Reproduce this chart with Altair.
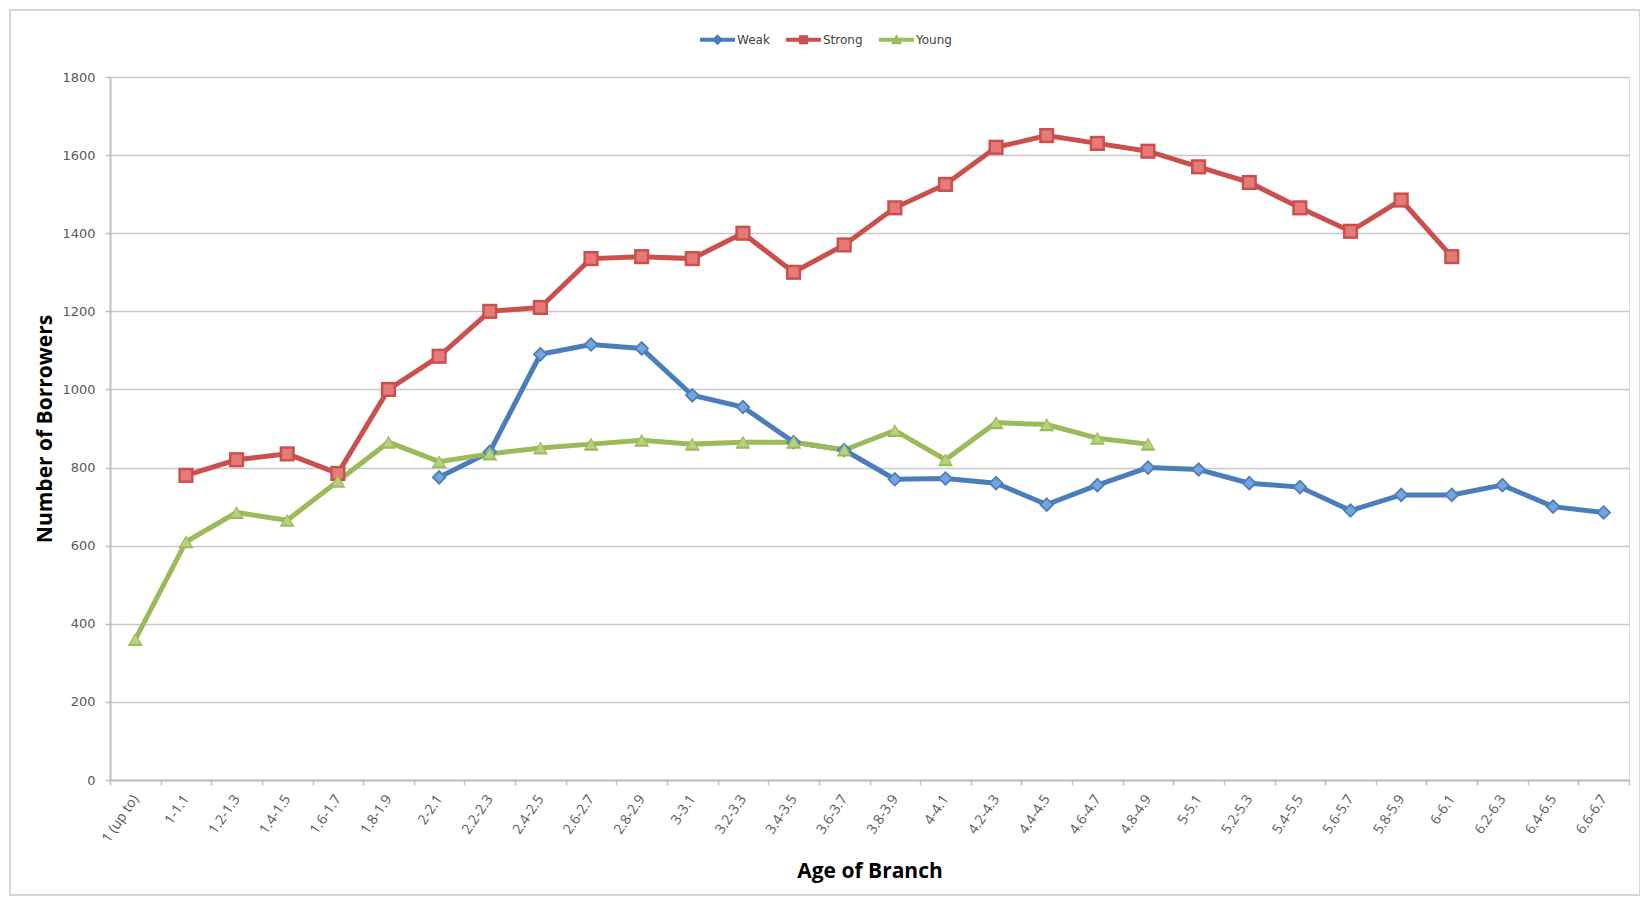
import altair as alt
import pandas as pd

categories = ["1 (up to)", "1-1.1", "1.2-1.3", "1.4-1.5", "1.6-1.7", "1.8-1.9",
              "2-2.1", "2.2-2.3", "2.4-2.5", "2.6-2.7", "2.8-2.9", "3-3.1",
              "3.2-3.3", "3.4-3.5", "3.6-3.7", "3.8-3.9", "4-4.1", "4.2-4.3",
              "4.4-4.5", "4.6-4.7", "4.8-4.9", "5-5.1", "5.2-5.3", "5.4-5.5",
              "5.6-5.7", "5.8-5.9", "6-6.1", "6.2-6.3", "6.4-6.5", "6.6-6.7"]

weak = [None, None, None, None, None, None,
        775, 840, 1090, 1115, 1105, 985, 955, 865, 845, 770, 772, 760,
        705, 755, 800, 795, 760, 750, 690, 730, 730, 755, 700, 685]

strong = [None, 780, 820, 835, 785, 1000, 1085, 1200, 1210, 1335, 1340, 1335,
          1400, 1300, 1370, 1465, 1525, 1620, 1650, 1630, 1610, 1570, 1530,
          1465, 1405, 1485, 1340, None, None, None]

young = [360, 610, 685, 665, 765, 865, 815, 835, 850, 860, 870, 860, 865,
         865, 845, 895, 820, 915, 910, 875, 860,
         None, None, None, None, None, None, None, None, None]

series = ["Weak", "Strong", "Young"]
colors = ["#4A7EBB", "#C9504C", "#9BBB59"]
light_colors = ["#76A4DC", "#E57A76", "#B7D17E"]
shapes = ["diamond", "square", "triangle-up"]
legend_paths = [
    "M-1,-0.12H1V0.12H-1Z M0,-0.32L0.32,0L0,0.32L-0.32,0Z",
    "M-1,-0.12H1V0.12H-1Z M-0.26,-0.26H0.26V0.26H-0.26Z",
    "M-1,-0.12H1V0.12H-1Z M0,-0.32L0.32,0.26L-0.32,0.26Z",
]

rows = []
for name, vals in zip(series, [weak, strong, young]):
    for cat, v in zip(categories, vals):
        if v is not None:
            rows.append({"Age": cat, "Series": name, "Borrowers": v})
df = pd.DataFrame(rows)

x_enc = alt.X(
    "Age:N",
    sort=categories,
    bandPosition=0.5,
    scale=alt.Scale(type="band", domain=categories, paddingInner=0, paddingOuter=0),
    axis=alt.Axis(
        title="Age of Branch",
        titleFont="Open Sans", titleFontSize=21, titleFontWeight="bold",
        titleColor="#000000", titleY=80,
        labelAngle=-56, labelFont="Open Sans",
        labelFontSize=14, labelColor="#595959", labelOverlap=False,
        labelPadding=11,
        tickBand="extent", tickSize=5, tickColor="#BFBFBF", tickWidth=1.5,
        domainColor="#BFBFBF", domainWidth=2, grid=False,
    ),
)

y_enc = alt.Y(
    "Borrowers:Q",
    scale=alt.Scale(domain=[0, 1800], nice=False),
    axis=alt.Axis(
        values=list(range(0, 1801, 200)), format="d",
        title="Number of Borrowers",
        titleFont="Open Sans", titleFontSize=21, titleFontWeight="bold",
        titleColor="#000000", titleX=-65, titleBaseline="middle",
        labelFont="DejaVu Sans", labelFontSize=13, labelColor="#595959",
        labelPadding=10,
        tickSize=5, tickColor="#BFBFBF", tickWidth=1.5,
        domainColor="#BFBFBF", domainWidth=2,
        gridColor="#C8C8C8", gridWidth=1.5,
    ),
)

color_scale = alt.Scale(domain=series, range=colors)

leg = alt.Legend(
    title=None, orient="none", legendX=590, legendY=-55,
    direction="horizontal",
    symbolSize=1225, symbolStrokeWidth=0,
    labelFont="DejaVu Sans", labelFontSize=12, labelColor="#404040",
    labelOffset=2, columnPadding=16, padding=0,
)

# empty layer that only carries the legend (line + marker symbols)
legend_layer = alt.Chart(df).transform_filter("false").mark_point(
    filled=True, opacity=1, size=1225
).encode(
    x=x_enc, y=y_enc,
    color=alt.Color("Series:N", scale=color_scale, legend=leg),
    shape=alt.Shape("Series:N", scale=alt.Scale(domain=series, range=legend_paths), legend=leg),
)

lines = alt.Chart(df).mark_line(strokeWidth=5).encode(
    x=x_enc, y=y_enc,
    stroke=alt.Stroke("Series:N", scale=alt.Scale(domain=series, range=colors), legend=None),
    detail="Series:N",
)

marker_layers = []
for name, shp, col, lcol in zip(series, shapes, colors, light_colors):
    base = alt.Chart(df).transform_filter(alt.datum.Series == name)
    marker_layers.append(
        base.mark_point(filled=True, shape=shp, size=230, opacity=1, color=col).encode(x=x_enc, y=y_enc)
    )
    marker_layers.append(
        base.mark_point(filled=True, shape=shp, size=105, opacity=1, color=lcol).encode(x=x_enc, y=y_enc)
    )

frame = alt.Chart(pd.DataFrame({"f": [0]})).mark_rect(
    fillOpacity=0, stroke="#C8C8C8", strokeWidth=1.5
).encode(
    x=alt.value(-100), x2=alt.value(1530), y=alt.value(-67), y2=alt.value(818)
)

chart = alt.layer(legend_layer, frame, lines, *marker_layers).properties(
    width=1519, height=703,
    autosize=alt.AutoSizeParams(type="none"),
    padding={"left": 102, "top": 69, "right": 11, "bottom": 118},
).configure_view(stroke=None).configure(background="#FFFFFF")

chart.save("out.html", embed_options={"renderer": "svg", "actions": False})
